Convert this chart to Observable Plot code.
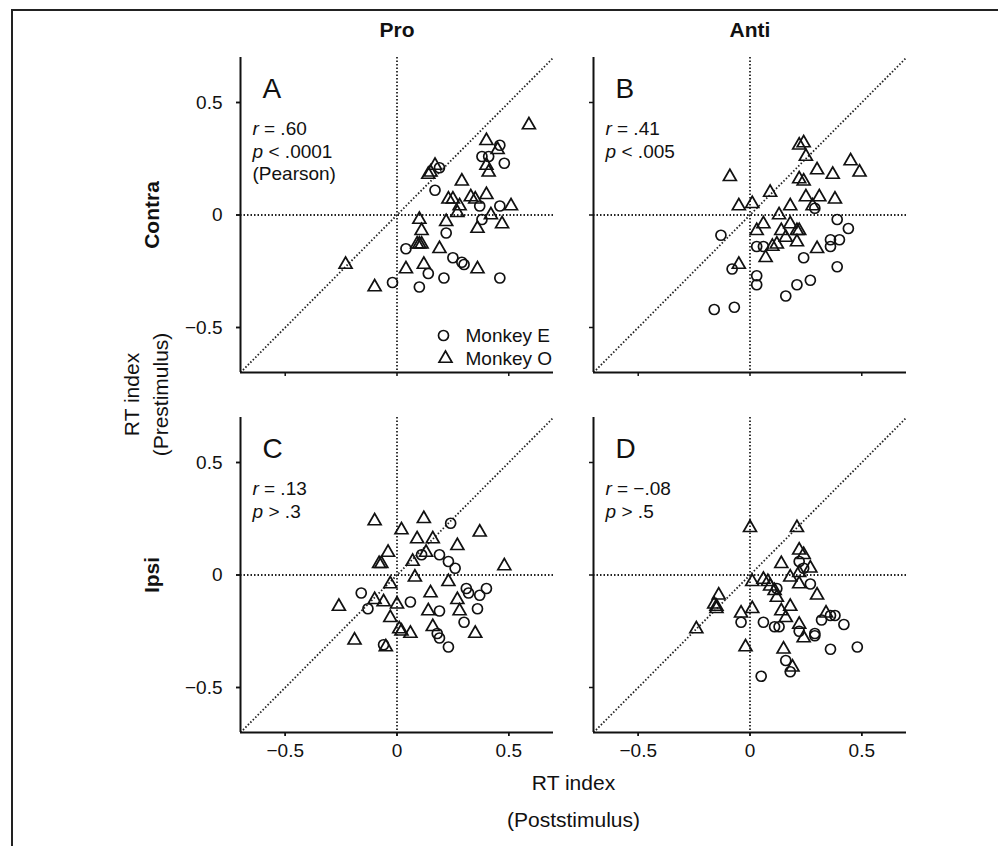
<!DOCTYPE html>
<html>
<head>
<meta charset="utf-8">
<script src="https://cdn.jsdelivr.net/npm/d3@7"></script>
<script src="https://cdn.jsdelivr.net/npm/@observablehq/plot@0.6"></script>
<style>
  html, body { margin: 0; padding: 0; background: #fff; width: 998px; height: 846px; overflow: hidden; }
  #wrap { position: relative; width: 998px; height: 846px; }
  #border { position: absolute; left: 11px; top: 9px; width: 1000px; height: 900px;
            border-top: 2px solid #222; border-left: 2px solid #222; pointer-events: none; }
  #chart { position: absolute; left: 0; top: 0; }
</style>
</head>
<body>
<div id="wrap"><div id="chart"></div><div id="border"></div></div>
<script>
// ---- categories / labels ----
const COLS = ["Pro", "Anti"];
const ROWS = ["Contra", "Ipsi"];
const PANELS = ["A", "B", "C", "D"];
const PANEL_COL = ["Pro", "Anti", "Pro", "Anti"];
const PANEL_ROW = ["Contra", "Contra", "Ipsi", "Ipsi"];
const R_VALUES = [".60", ".41", ".13", "\u2212.08"];
const P_VALUES = ["< .0001", "< .005", "> .3", "> .5"];
const TEST_NOTE = ["(Pearson)", "", "", ""];
const MONKEYS = ["Monkey E", "Monkey O"];
const TICKS = [-0.5, 0, 0.5];
const DOMAIN = [-0.7, 0.7];
const X_TITLE = "RT index\n(Poststimulus)";
const Y_TITLE = "RT index\n(Prestimulus)";

// ---- data: [poststimulus index, prestimulus index] ----
const A_E = [[-0.02,-0.30],[0.10,-0.32],[0.04,-0.15],[0.14,-0.26],[0.21,-0.28],[0.22,-0.08],[0.17,0.11],[0.19,0.21],[0.25,-0.19],[0.29,-0.21],[0.30,-0.22],[0.37,0.04],[0.38,-0.02],[0.38,0.26],[0.41,0.26],[0.46,0.31],[0.48,0.23],[0.46,0.04],[0.46,-0.28]];
const A_O = [[-0.23,-0.22],[-0.10,-0.32],[0.04,-0.24],[0.10,-0.02],[0.11,-0.07],[0.10,-0.13],[0.09,-0.13],[0.11,-0.13],[0.12,-0.22],[0.15,0.19],[0.17,0.22],[0.14,0.18],[0.19,-0.15],[0.22,-0.03],[0.23,0.07],[0.25,0.07],[0.27,0.01],[0.28,0.04],[0.29,0.15],[0.33,0.08],[0.35,0.07],[0.36,-0.06],[0.36,-0.24],[0.40,0.33],[0.40,0.22],[0.41,0.19],[0.40,0.09],[0.42,0.00],[0.45,0.29],[0.47,-0.04],[0.51,0.04],[0.59,0.40]];
const B_E = [[-0.16,-0.42],[-0.07,-0.41],[-0.13,-0.09],[-0.08,-0.24],[0.03,-0.27],[0.03,-0.31],[0.03,-0.14],[0.06,-0.14],[0.16,-0.36],[0.21,-0.31],[0.27,-0.29],[0.24,-0.19],[0.29,0.03],[0.36,-0.11],[0.36,-0.14],[0.40,-0.11],[0.39,-0.02],[0.44,-0.06],[0.39,-0.23]];
const B_O = [[-0.09,0.17],[-0.05,0.04],[0.01,0.05],[-0.05,-0.22],[0.03,-0.07],[0.06,-0.04],[0.09,0.10],[0.07,-0.19],[0.10,-0.14],[0.12,-0.13],[0.13,0.00],[0.14,-0.07],[0.16,-0.10],[0.18,-0.04],[0.18,0.04],[0.21,-0.07],[0.21,-0.12],[0.22,-0.07],[0.22,0.31],[0.24,0.32],[0.25,0.26],[0.22,0.16],[0.24,0.15],[0.25,0.08],[0.28,0.04],[0.30,0.20],[0.31,0.08],[0.37,0.18],[0.38,0.07],[0.30,-0.15],[0.45,0.24],[0.49,0.19]];
const C_E = [[-0.16,-0.08],[-0.13,-0.15],[-0.06,-0.31],[0.06,-0.12],[0.11,0.09],[0.19,0.09],[0.23,0.06],[0.26,0.03],[0.24,0.23],[0.19,-0.16],[0.18,-0.26],[0.19,-0.28],[0.23,-0.32],[0.30,-0.21],[0.31,-0.06],[0.32,-0.08],[0.37,-0.09],[0.36,-0.15],[0.40,-0.06]];
const C_O = [[-0.26,-0.14],[-0.19,-0.29],[-0.10,0.24],[-0.04,0.10],[-0.07,0.05],[-0.08,0.05],[-0.03,-0.04],[-0.10,-0.11],[-0.06,-0.12],[0.00,-0.13],[-0.03,-0.19],[-0.05,-0.32],[0.01,-0.24],[0.02,-0.25],[0.06,-0.26],[0.02,0.20],[0.07,0.06],[0.08,-0.01],[0.09,0.16],[0.12,0.25],[0.13,0.10],[0.16,0.16],[0.15,-0.08],[0.14,-0.16],[0.16,-0.23],[0.23,-0.03],[0.27,0.13],[0.27,-0.11],[0.28,-0.16],[0.35,-0.26],[0.37,0.19],[0.48,0.04]];
const D_E = [[-0.04,-0.21],[0.06,-0.21],[0.05,-0.45],[0.11,-0.23],[0.13,-0.23],[0.12,-0.06],[0.16,-0.38],[0.18,-0.43],[0.22,0.06],[0.24,0.03],[0.27,-0.04],[0.22,-0.25],[0.29,-0.27],[0.29,-0.26],[0.32,-0.20],[0.36,-0.18],[0.38,-0.18],[0.42,-0.22],[0.36,-0.33],[0.48,-0.32]];
const D_O = [[-0.24,-0.24],[-0.16,-0.13],[-0.14,-0.09],[-0.15,-0.15],[-0.15,-0.14],[-0.04,-0.17],[-0.02,-0.32],[0.00,0.21],[0.01,-0.03],[0.01,-0.15],[0.06,-0.02],[0.08,-0.03],[0.09,-0.05],[0.11,-0.07],[0.12,-0.10],[0.14,0.05],[0.14,-0.16],[0.15,-0.33],[0.18,-0.01],[0.18,-0.14],[0.19,-0.41],[0.21,0.21],[0.22,0.11],[0.22,0.01],[0.22,-0.22],[0.24,0.09],[0.24,-0.28],[0.27,0.03],[0.30,-0.09],[0.34,-0.17],[0.22,-0.04],[0.16,-0.19]];

const E_SETS = [A_E, B_E, C_E, D_E];
const O_SETS = [A_O, B_O, C_O, D_O];

// ---- build tables ----
function toRows(sets) {
  const out = [];
  sets.forEach((set, i) => set.forEach(([x, y]) => out.push({col: PANEL_COL[i], row: PANEL_ROW[i], x, y})));
  return out;
}
const pointsE = toRows(E_SETS);
const pointsO = toRows(O_SETS);
const panelInfo = PANELS.map((p, i) => ({letter: p, col: PANEL_COL[i], row: PANEL_ROW[i],
  r: R_VALUES[i], p: P_VALUES[i], note: TEST_NOTE[i]}));

const FONT = "'Liberation Sans', Arial, Helvetica, sans-serif";
const INK = "#111";
const fmt = d => d === 0 ? "0" : (d < 0 ? "\u2212" : "") + Math.abs(d).toFixed(1);
const dotted = {stroke: "#222", strokeWidth: 1.8, strokeDasharray: "1.5,2"};
const inA = {fx: () => "Pro", fy: () => "Contra"};

const chart = Plot.plot({
  width: 998,
  height: 846,
  marginLeft: 240,
  marginRight: 92,
  marginTop: 57,
  marginBottom: 114,
  style: {fontFamily: FONT, fontSize: "19px", color: INK, background: "white", overflow: "visible"},
  fx: {domain: COLS, paddingInner: 40 / 353, paddingOuter: 0, round: false, axis: null, label: null},
  fy: {domain: ROWS, paddingInner: 45 / 360, paddingOuter: 0, round: false, axis: null, label: null},
  x: {domain: DOMAIN, label: null},
  y: {domain: DOMAIN, label: null},
  marks: [
    // reference lines
    Plot.ruleX([0], dotted),
    Plot.ruleY([0], dotted),
    Plot.link([DOMAIN], {x1: d => d[0], y1: d => d[0], x2: d => d[1], y2: d => d[1], ...dotted}),
    // axes lines
    Plot.ruleX([DOMAIN[0]], {stroke: INK, strokeWidth: 2}),
    Plot.ruleY([DOMAIN[0]], {stroke: INK, strokeWidth: 2}),
    // tick marks in every panel
    Plot.axisX({ticks: TICKS, tickSize: 4, fill: "none", strokeWidth: 1.5, facetAnchor: null, label: null}),
    Plot.axisY({ticks: TICKS, tickSize: 4, fill: "none", strokeWidth: 1.5, facetAnchor: null, label: null}),
    // tick labels on outer panels
    Plot.axisX({ticks: TICKS, tickSize: 4, tickPadding: 7, tickFormat: fmt, fontSize: 19, strokeWidth: 1.5, label: null}),
    Plot.axisY({ticks: TICKS, tickSize: 4, tickPadding: 14, tickFormat: fmt, fontSize: 19, strokeWidth: 1.5, label: null}),
    // data
    Plot.dot(pointsE, {x: "x", y: "y", fx: "col", fy: "row", symbol: "circle", r: 5, stroke: INK, strokeWidth: 1.7, fill: "none"}),
    Plot.dot(pointsO, {x: "x", y: "y", fx: "col", fy: "row", symbol: "triangle", r: 4.8, stroke: INK, strokeWidth: 1.7, fill: "none"}),
    // panel letters
    Plot.text(panelInfo, {fx: "col", fy: "row", text: "letter", frameAnchor: "top-left", textAnchor: "start", lineAnchor: "top", dx: 22, dy: 21, fontSize: 28, fill: INK}),
    // statistics
    Plot.text(panelInfo, {fx: "col", fy: "row", text: () => "r", frameAnchor: "top-left", textAnchor: "start", lineAnchor: "top", dx: 12, dy: 64, fontSize: 19, fontStyle: "italic", fill: INK}),
    Plot.text(panelInfo, {fx: "col", fy: "row", text: d => "= " + d.r, frameAnchor: "top-left", textAnchor: "start", lineAnchor: "top", dx: 23.5, dy: 64, fontSize: 19, fill: INK}),
    Plot.text(panelInfo, {fx: "col", fy: "row", text: () => "p", frameAnchor: "top-left", textAnchor: "start", lineAnchor: "top", dx: 12, dy: 86.5, fontSize: 19, fontStyle: "italic", fill: INK}),
    Plot.text(panelInfo, {fx: "col", fy: "row", text: d => d.p, frameAnchor: "top-left", textAnchor: "start", lineAnchor: "top", dx: 28, dy: 86.5, fontSize: 19, fill: INK}),
    Plot.text(panelInfo.filter(d => d.note), {fx: "col", fy: "row", text: "note", frameAnchor: "top-left", textAnchor: "start", lineAnchor: "top", dx: 12, dy: 109, fontSize: 19, fill: INK}),
    // legend (panel A)
    Plot.dot([MONKEYS[0]], {...inA, frameAnchor: "bottom-right", dx: -110, dy: -37, symbol: "circle", r: 5, stroke: INK, strokeWidth: 1.7, fill: "none"}),
    Plot.dot([MONKEYS[1]], {...inA, frameAnchor: "bottom-right", dx: -108, dy: -14, symbol: "triangle", r: 4.8, stroke: INK, strokeWidth: 1.7, fill: "none"}),
    Plot.text([MONKEYS[0]], {...inA, text: d => d, frameAnchor: "bottom-right", textAnchor: "start", lineAnchor: "middle", dx: -88, dy: -37, fontSize: 19, fill: INK}),
    Plot.text([MONKEYS[1]], {...inA, text: d => d, frameAnchor: "bottom-right", textAnchor: "start", lineAnchor: "middle", dx: -88, dy: -14, fontSize: 19, fill: INK}),
    // facet headers
    Plot.text(COLS, {fx: d => d, fy: () => "Contra", text: d => d, frameAnchor: "top", textAnchor: "middle", lineAnchor: "middle", dy: -27, fontSize: 21, fontWeight: "bold", fill: INK}),
    Plot.text(ROWS, {fy: d => d, fx: () => "Pro", text: d => d, frameAnchor: "left", textAnchor: "middle", lineAnchor: "middle", rotate: -90, dx: -88, fontSize: 21, fontWeight: "bold", fill: INK}),
    // axis titles
    Plot.text([Y_TITLE], {...inA, text: d => d, frameAnchor: "bottom-left", textAnchor: "middle", lineAnchor: "middle", rotate: -90, dx: -96, dy: 22, lineHeight: 1.35, fontSize: 21, fill: INK}),
    Plot.text([X_TITLE], {fx: () => "Pro", fy: () => "Ipsi", text: d => d, frameAnchor: "bottom-right", textAnchor: "middle", lineAnchor: "middle", dx: 20, dy: 64, lineHeight: 1.75, fontSize: 21, fill: INK})
  ]
});
document.getElementById("chart").appendChild(chart);
</script>
</body>
</html>
